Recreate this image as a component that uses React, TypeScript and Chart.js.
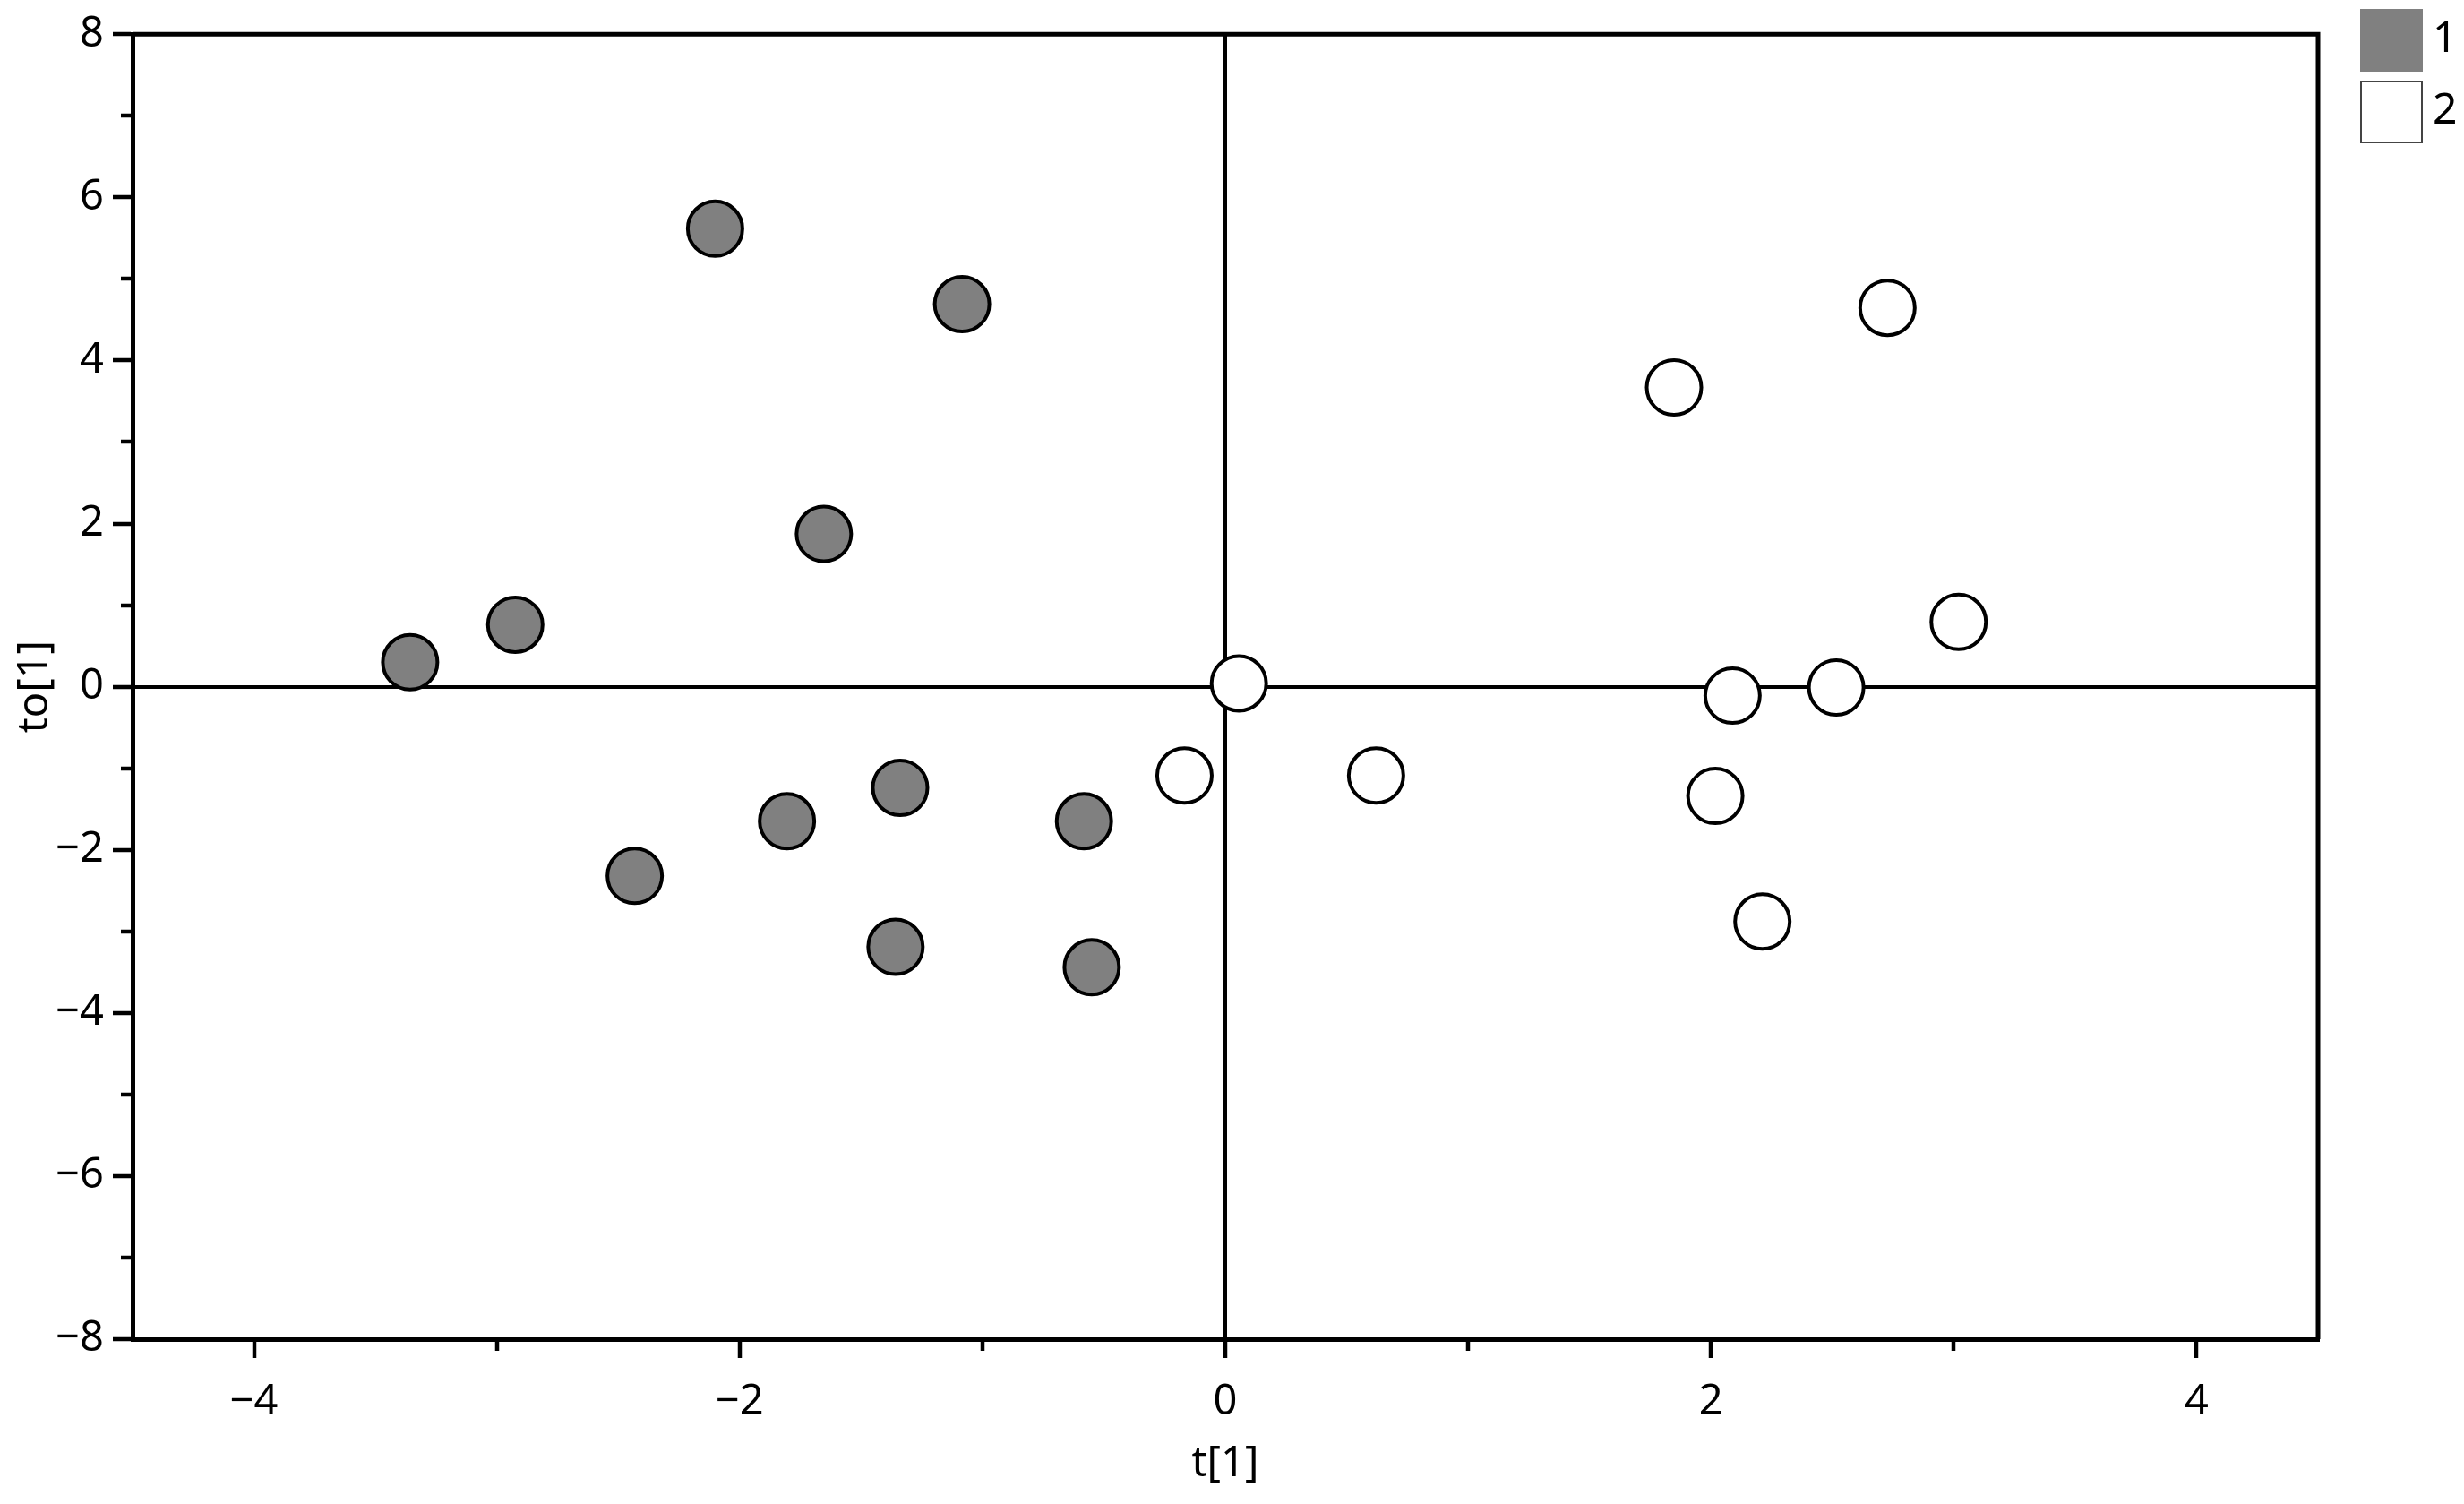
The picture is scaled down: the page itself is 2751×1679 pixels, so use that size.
import React, { useEffect, useRef } from 'react';
import { Chart, registerables } from 'chart.js';

Chart.register(...registerables);

// ---- data ----
const group1X = [-2.101, -1.084, -1.653, -2.924, -3.357, -2.432, -1.805, -1.339, -1.358, -0.582, -0.550];
const group1Y = [5.615, 4.69, 1.873, 0.76, 0.30, -2.32, -1.65, -1.24, -3.19, -1.65, -3.44];
const group2X = [0.056, -0.168, 0.621, 1.848, 2.727, 3.020, 2.089, 2.516, 2.018, 2.212];
const group2Y = [0.04, -1.09, -1.09, 3.669, 4.645, 0.794, -0.11, -0.01, -1.34, -2.88];
const seriesLabels = ['1', '2'];
const seriesFill = ['#808080', '#ffffff'];
const xTickValues = [-4, -2, 0, 2, 4];
const yTickValues = [-8, -6, -4, -2, 0, 2, 4, 6, 8];
const xMinorTicks = [-3, -1, 1, 3];
const yMinorTicks = [-7, -5, -3, -1, 1, 3, 5, 7];
const xRange = [-4.5, 4.5];
const yRange = [-8, 8];
const xTitle = 't[1]';
const yTitle = 'to[1]';

const W = 2751;
const H = 1679;
const FONT = '"Noto Sans", "Open Sans", sans-serif';
const FS = 47;
const AXIS_W = 5;

function fmt(v: number): string {
  return v < 0 ? '\u2212' + Math.abs(v) : String(v);
}

const decorPlugin = {
  id: 'decor',
  beforeDatasetsDraw(chart: any) {
    const { ctx, chartArea: a, scales } = chart;
    ctx.save();
    ctx.strokeStyle = '#000';
    ctx.lineWidth = AXIS_W;
    ctx.lineJoin = 'miter';
    ctx.lineCap = 'butt';
    ctx.beginPath();
    ctx.moveTo(a.left, a.top);
    ctx.lineTo(a.right, a.top);
    ctx.lineTo(a.right, a.bottom);
    ctx.stroke();
    // minor ticks
    const minorLen = 13;
    ctx.lineWidth = 4.5;
    ctx.beginPath();
    xMinorTicks.forEach((v) => {
      const px = Math.round(scales.x.getPixelForValue(v));
      ctx.moveTo(px, a.bottom);
      ctx.lineTo(px, a.bottom + minorLen);
    });
    yMinorTicks.forEach((v) => {
      const py = Math.round(scales.y.getPixelForValue(v));
      ctx.moveTo(a.left, py);
      ctx.lineTo(a.left - minorLen, py);
    });
    ctx.stroke();
    ctx.restore();
  },
  afterDraw(chart: any) {
    const { ctx, chartArea: a } = chart;
    ctx.save();
    const bx = a.right + 47;
    const size = 70;
    const tops = [10, 90];
    seriesLabels.forEach((lab, i) => {
      ctx.fillStyle = seriesFill[i];
      ctx.fillRect(bx, tops[i], size, size);
      if (i === 1) {
        ctx.strokeStyle = '#444';
        ctx.lineWidth = 2;
        ctx.strokeRect(bx + 1, tops[i] + 1, size - 2, size - 2);
      }
      ctx.fillStyle = '#000';
      ctx.font = `${FS + 1}px ${FONT}`;
      ctx.textAlign = 'left';
      ctx.textBaseline = 'middle';
      ctx.fillText(lab, bx + size + 11, tops[i] + size / 2 - 1);
    });
    ctx.restore();
  },
};

export default function App() {
  const ref = useRef<HTMLCanvasElement | null>(null);
  useEffect(() => {
    document.body.style.margin = '0';
    document.body.style.overflow = 'hidden';
    const canvas = ref.current;
    if (!canvas) return;
    const tickFont = { family: FONT, size: FS };
    const pointStyle = {
      borderColor: '#000',
      borderWidth: 4,
      pointRadius: 30.5,
      pointHoverRadius: 30.5,
      pointBorderWidth: 4,
      pointHoverBorderWidth: 4,
    };
    const chart = new Chart(canvas, {
      type: 'scatter',
      data: {
        datasets: [
          {
            label: seriesLabels[0],
            data: group1X.map((x, i) => ({ x, y: group1Y[i] })),
            backgroundColor: seriesFill[0],
            ...pointStyle,
          },
          {
            label: seriesLabels[1],
            data: group2X.map((x, i) => ({ x, y: group2Y[i] })),
            backgroundColor: seriesFill[1],
            ...pointStyle,
          },
        ],
      },
      options: {
        responsive: false,
        maintainAspectRatio: false,
        animation: false,
        devicePixelRatio: 1,
        events: [],
        layout: { padding: { top: 37, right: 163, left: 0, bottom: 0 } },
        plugins: { legend: { display: false }, tooltip: { enabled: false } },
        scales: {
          x: {
            type: 'linear',
            position: 'bottom',
            min: xRange[0],
            max: xRange[1],
            afterBuildTicks: (s: any) => {
              s.ticks = xTickValues.map((v) => ({ value: v }));
            },
            afterFit: (s: any) => {
              s.height = H - 1495;
            },
            ticks: {
              callback: (v: any) => fmt(Number(v)),
              font: tickFont,
              color: '#000',
              padding: 21,
              maxRotation: 0,
              autoSkip: false,
            },
            grid: {
              color: (c: any) => (c.tick && c.tick.value === 0 ? '#000' : 'rgba(0,0,0,0)'),
              lineWidth: 4,
              drawTicks: true,
              tickLength: 21,
              tickColor: '#000',
              tickWidth: 4.5,
            },
            border: { display: true, color: '#000', width: AXIS_W },
            title: {
              display: true,
              text: xTitle,
              font: tickFont,
              color: '#000',
              padding: { top: 0, bottom: 16 },
            },
          },
          y: {
            type: 'linear',
            position: 'left',
            min: yRange[0],
            max: yRange[1],
            afterBuildTicks: (s: any) => {
              s.ticks = yTickValues.map((v) => ({ value: v }));
            },
            afterFit: (s: any) => {
              s.width = 148;
            },
            ticks: {
              callback: (v: any) => fmt(Number(v)),
              font: tickFont,
              color: '#000',
              padding: 10,
              autoSkip: false,
            },
            grid: {
              color: (c: any) => (c.tick && c.tick.value === 0 ? '#000' : 'rgba(0,0,0,0)'),
              lineWidth: 4,
              drawTicks: true,
              tickLength: 22,
              tickColor: '#000',
              tickWidth: 4.5,
            },
            border: { display: true, color: '#000', width: AXIS_W },
            title: {
              display: true,
              text: yTitle,
              font: tickFont,
              color: '#000',
              padding: { top: 11, bottom: 0 },
            },
          },
        },
      },
      plugins: [decorPlugin],
    } as any);
    return () => chart.destroy();
  }, []);
  return (
    <div style={{ width: W, height: H, position: 'relative', background: '#fff' }}>
      <canvas ref={ref} width={W} height={H} style={{ width: W, height: H, display: 'block' }} />
    </div>
  );
}
